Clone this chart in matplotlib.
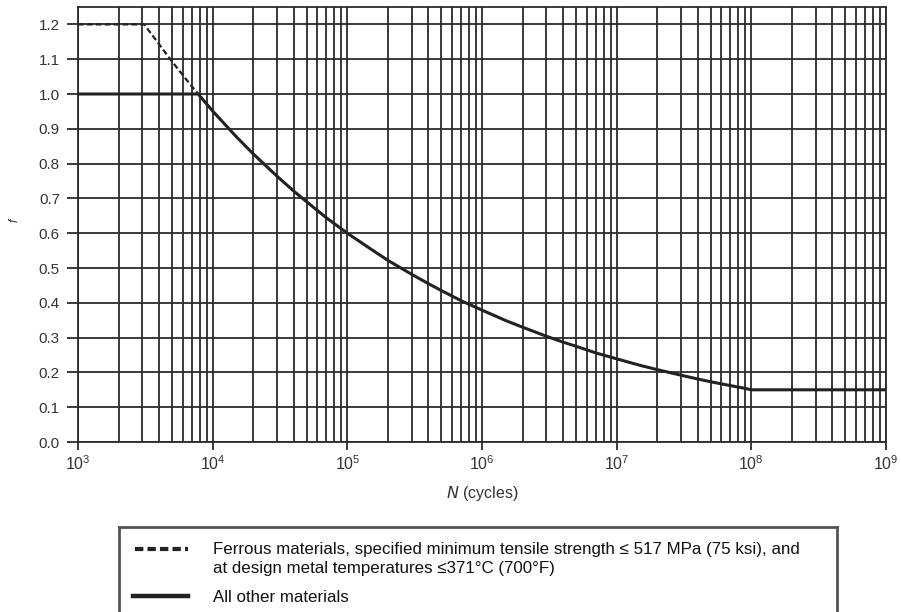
import numpy as np
import matplotlib
matplotlib.use("Agg")
import matplotlib.pyplot as plt
from matplotlib.ticker import FixedLocator, NullFormatter, LogFormatterMathtext
from matplotlib.lines import Line2D

plt.rcParams['font.family'] = ['Liberation Sans', 'DejaVu Sans']
plt.rcParams['mathtext.default'] = 'regular'

# Data
ferrous_N = [1e3, 3.1e3, 4e3, 4.8e3, 6e3, 7.8e3]
ferrous_f = [1.2, 1.2, 1.143, 1.102, 1.054, 1.0]

other_N = [1e3, 7.8e3, 1e4, 1.5e4, 2e4, 3e4, 4e4, 5e4, 7e4,
           1e5, 1.5e5, 2e5, 3e5, 4e5, 5e5, 7e5,
           1e6, 1.5e6, 2e6, 3e6, 4e6, 5e6, 7e6,
           1e7, 1.5e7, 2e7, 3e7, 4e7, 5e7, 7e7, 9e7, 1e8, 1e9]
other_f = [1.0, 1.0, 0.951, 0.877, 0.828, 0.764, 0.721, 0.690, 0.644,
           0.600, 0.554, 0.522, 0.482, 0.455, 0.435, 0.406,
           0.379, 0.349, 0.330, 0.304, 0.287, 0.275, 0.256,
           0.239, 0.220, 0.208, 0.192, 0.181, 0.173, 0.162, 0.154, 0.15, 0.15]

x_major = [1e3, 1e4, 1e5, 1e6, 1e7, 1e8, 1e9]
y_ticks = [0.0, 0.1, 0.2, 0.3, 0.4, 0.5, 0.6, 0.7, 0.8, 0.9, 1.0, 1.1, 1.2]
legend_labels = ["Ferrous materials, specified minimum tensile strength \u2264 517 MPa (75 ksi), and\nat design metal temperatures \u2264371\u00b0C (700\u00b0F)",
                 "All other materials"]

W, H = 901, 612
fig = plt.figure(figsize=(W/100, H/100), dpi=100)
ax = fig.add_axes([78/W, 1 - 442/H, (886-78)/W, (442-7)/H])

gcol = '#2b2b2b'
tcol = '#333333'
ax.set_xscale('log')
ax.set_xlim(1e3, 1e9)
ax.set_ylim(0, 1.25)
minors = [m * d for d in x_major[:-1] for m in range(2, 10)]
ax.xaxis.set_major_locator(FixedLocator(x_major))
ax.xaxis.set_major_formatter(LogFormatterMathtext())
ax.xaxis.set_minor_locator(FixedLocator(minors))
ax.xaxis.set_minor_formatter(NullFormatter())
ax.yaxis.set_major_locator(FixedLocator(y_ticks))
ax.set_yticklabels([f"{v:.1f}" for v in y_ticks])

ax.grid(True, which='major', axis='both', color=gcol, lw=1.3)
ax.grid(True, which='minor', axis='x', color=gcol, lw=1.3)
for s in ax.spines.values():
    s.set_color(gcol)
    s.set_linewidth(1.3)

ax.tick_params(axis='x', which='major', length=6, width=1.3, color=gcol,
               labelsize=11.5, labelcolor=tcol, pad=3)
ax.tick_params(axis='x', which='minor', length=0)
ax.tick_params(axis='y', which='major', length=8, width=1.3, color=gcol,
               labelsize=11, labelcolor=tcol, pad=5)

ax.plot(ferrous_N, ferrous_f, color='#222222', lw=1.6, ls=(0, (2.6, 1.4)), zorder=3)
ax.plot(other_N, other_f, color='#222222', lw=2.2, zorder=4,
        solid_joinstyle='round')

ax.set_xlabel(r"$\it{N}$ (cycles)", fontsize=11.5, color=tcol, labelpad=8)
fig.text(15/W, 1 - 220/H, "f", fontsize=9, style='italic', color=tcol,
         ha='center', va='center', rotation=90)

# Legend box (bottom extends beyond the figure edge)
extra = 0.05
lax = fig.add_axes([119/W, -extra, (837-119)/W, (H - 527)/H + extra])
lax.set_xlim(119, 837)
lax.set_ylim(H + extra * H, 527)
lax.set_xticks([])
lax.set_yticks([])
for s in ['top', 'left', 'right']:
    lax.spines[s].set_color('#555555')
    lax.spines[s].set_linewidth(2)
lax.spines['bottom'].set_visible(False)
lax.patch.set_alpha(0)

lax.add_line(Line2D([135, 188], [549, 549], color='#222222', lw=3.0, ls=(0, (2.0, 1.0))))
lax.add_line(Line2D([133, 188], [596, 596], color='#222222', lw=3.2))
lax.text(213, 559, legend_labels[0], fontsize=12.2, va='center', ha='left',
         color='#111111', linespacing=1.27)
lax.text(213, 597, legend_labels[1], fontsize=12.2, va='center', ha='left',
         color='#111111')

fig.savefig("out.png", dpi=100)
